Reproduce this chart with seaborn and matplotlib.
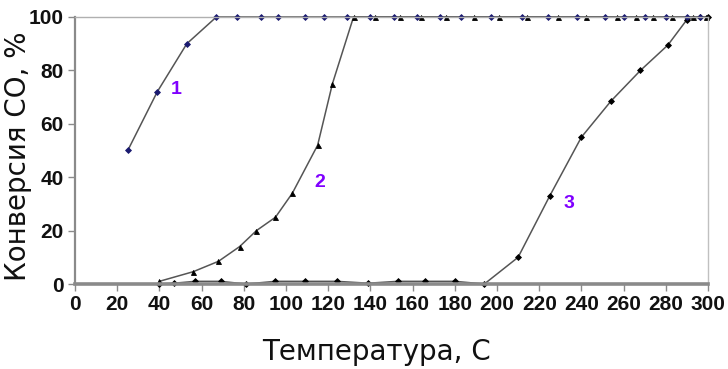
import matplotlib
matplotlib.use('Agg')
import matplotlib.pyplot as plt
import seaborn as sns

# ---- data ----
t1 = [25, 39, 53, 67, 77, 88, 96, 109, 118, 129, 140, 151, 162, 173, 183, 197,
      212, 224, 238, 251, 260, 270, 280, 290, 296]
c1 = [50, 72, 90, 100, 100, 100, 100, 100, 100, 100, 100, 100, 100, 100, 100, 100,
      100, 100, 100, 100, 100, 100, 100, 100, 100]

t2 = [40, 56, 68, 78, 86, 95, 103, 115, 122, 132, 142, 154, 164, 176, 189, 201,
      214, 229, 242, 257, 266, 274, 283, 293, 299]
c2 = [1, 4.6, 8.5, 14, 20, 25, 34, 52, 75, 100, 100, 100, 100, 100, 100, 100,
      100, 100, 100, 100, 100, 100, 100, 100, 100]

t3 = [40, 47, 57, 69, 81, 95, 109, 124, 139, 153, 166, 180, 194, 210, 225, 240,
      254, 268, 281, 290, 296, 300]
c3 = [0, 0.3, 1, 1, 0, 1, 1, 1, 0.3, 1, 1, 1, 0, 10, 33, 55,
      68.5, 80, 89.5, 99, 100, 100]

series_labels = ['1', '2', '3']
label_pos_x = [48, 116, 234]
label_pos_y = [73, 38, 30]

x_ticks = list(range(0, 301, 20))
y_ticks = list(range(0, 101, 20))

# ---- figure ----
sns.set_style('white')
fig = plt.figure(figsize=(7.28, 3.69), dpi=100)
ax = fig.add_axes([75 / 728, 1 - 284 / 369, 633 / 728, 267 / 369])

line_col = '#555555'
sns.lineplot(x=t3, y=c3, ax=ax, sort=False, color=line_col, lw=1.1, marker='D',
             markersize=3.0, markerfacecolor='black', markeredgecolor='black',
             markeredgewidth=0.6, clip_on=False)
sns.lineplot(x=t2, y=c2, ax=ax, sort=False, color=line_col, lw=1.1, marker='^',
             markersize=3.6, markerfacecolor='black', markeredgecolor='black',
             markeredgewidth=0.6, clip_on=False)
sns.lineplot(x=t1, y=c1, ax=ax, sort=False, color=line_col, lw=1.1, marker='D',
             markersize=3.0, markerfacecolor='#1a1a70', markeredgecolor='#1a1a70',
             markeredgewidth=0.6, clip_on=False)

for s, lx, ly in zip(series_labels, label_pos_x, label_pos_y):
    ax.text(lx, ly, s, color='#8000ff', fontsize=14, fontweight='bold',
            ha='center', va='center', family='Liberation Sans')

ax.set_xlim(0, 300)
ax.set_ylim(0, 100)
ax.set_xticks(x_ticks)
ax.set_yticks(y_ticks)

for side, col, lw in [('left', '#8a8a8a', 1.6), ('bottom', '#8a8a8a', 2.6),
                      ('top', '#b0b0b0', 1.0), ('right', '#c0c0c0', 1.0)]:
    ax.spines[side].set_visible(True)
    ax.spines[side].set_color(col)
    ax.spines[side].set_linewidth(lw)

ax.tick_params(axis='both', direction='out', length=5, width=1, color='#8a8a8a',
               labelsize=15, pad=3, bottom=True, left=True)
for lbl in ax.get_xticklabels() + ax.get_yticklabels():
    lbl.set_fontweight('bold')
    lbl.set_family('Liberation Sans')
    lbl.set_color('#111111')

ax.set_xlabel('Температура, С', fontsize=20, family='DejaVu Sans', color='#111111')
ax.set_ylabel('Конверсия СО, %', fontsize=20, family='DejaVu Sans', color='#111111')
ax.xaxis.set_label_coords((377 - 75) / 633, (284 - 352) / 267)
ax.xaxis.label.set_va('center')
ax.yaxis.set_label_coords((18 - 75) / 633, (284 - 156) / 267)
ax.yaxis.label.set_va('center')
ax.yaxis.label.set_ha('center')

fig.savefig('out.png', dpi=100)
